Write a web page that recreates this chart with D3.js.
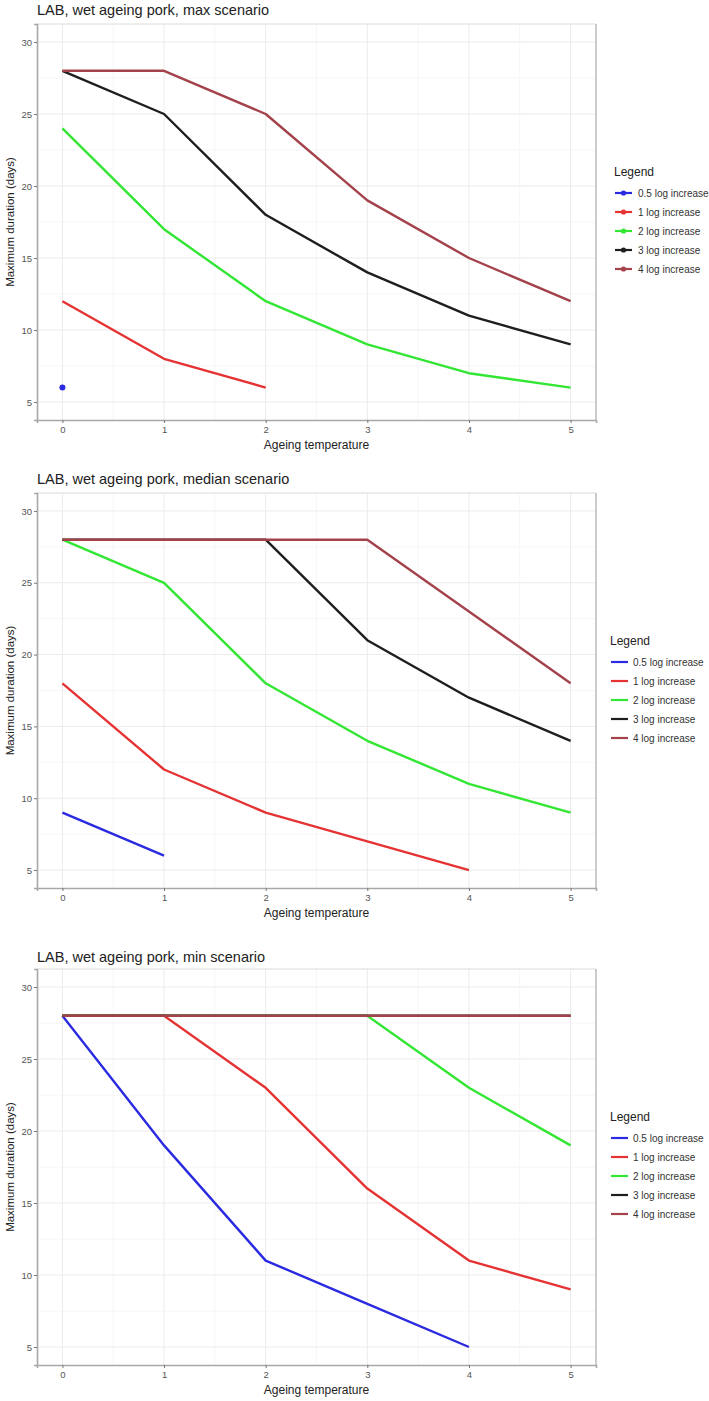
<!DOCTYPE html>
<html>
<head>
<meta charset="utf-8">
<script src="https://cdn.jsdelivr.net/npm/d3@7"></script>
<style>
html,body{margin:0;padding:0;background:#fff;}
svg{display:block;font-family:"Liberation Sans",Arial,sans-serif;}
</style>
</head>
<body>
<svg id="chart" width="709" height="1401"></svg>
<script>
const temperatures = [0, 1, 2, 3, 4, 5];
const seriesNames = ["0.5 log increase", "1 log increase", "2 log increase", "3 log increase", "4 log increase"];
const seriesColors = ["#2a2ae0", "#e53333", "#33e633", "#1e1e1e", "#a3424a"];
const yTicks = [5, 10, 15, 20, 25, 30];
const xTicks = [0, 1, 2, 3, 4, 5];
const scenarioTitles = ["LAB, wet ageing pork, max scenario", "LAB, wet ageing pork, median scenario", "LAB, wet ageing pork, min scenario"];

// values per series, indexed by temperature (null = no value)
const maxScenario = [
  [6, null, null, null, null, null],
  [12, 8, 6, null, null, null],
  [24, 17, 12, 9, 7, 6],
  [28, 25, 18, 14, 11, 9],
  [28, 28, 25, 19, 15, 12]
];
const medianScenario = [
  [9, 6, null, null, null, null],
  [18, 12, 9, 7, 5, null],
  [28, 25, 18, 14, 11, 9],
  [28, 28, 28, 21, 17, 14],
  [28, 28, 28, 28, 23, 18]
];
const minScenario = [
  [28, 19, 11, 8, 5, null],
  [28, 28, 23, 16, 11, 9],
  [28, 28, 28, 28, 23, 19],
  [28, 28, 28, 28, 28, 28],
  [28, 28, 28, 28, 28, 28]
];

const panels = [
  {data: maxScenario, top: 24, bottom: 420, titleY: 15, legTitleY: 176, legY0: 193, keyX: 615, textX: 638, points: true},
  {data: medianScenario, top: 493, bottom: 888, titleY: 484, legTitleY: 645, legY0: 662, keyX: 611, textX: 633, points: false},
  {data: minScenario, top: 969, bottom: 1365, titleY: 962, legTitleY: 1121, legY0: 1138, keyX: 611, textX: 633, points: false}
];

const svg = d3.select("#chart");
const left = 37, right = 596;

panels.forEach((p, pi) => {
  const g = svg.append("g");
  const x = d3.scaleLinear().domain([-0.25, 5.25]).range([left, right]);
  const y = d3.scaleLinear().domain([3.75, 31.25]).range([p.bottom, p.top]);

  g.append("rect").attr("x", left).attr("y", p.top).attr("width", right - left).attr("height", p.bottom - p.top).attr("fill", "#fff");

  // minor grid
  const xMinor = d3.range(-0.5, 5.6, 1).filter(v => v > -0.25 && v < 5.25);
  const yMinor = d3.range(2.5, 32.6, 5).filter(v => v > 3.75 && v < 31.25);
  g.selectAll(".xminor").data(xMinor).enter().append("line")
    .attr("x1", d => x(d)).attr("x2", d => x(d)).attr("y1", p.top).attr("y2", p.bottom)
    .attr("stroke", "#f4f4f4").attr("stroke-width", 0.8);
  g.selectAll(".yminor").data(yMinor).enter().append("line")
    .attr("y1", d => y(d)).attr("y2", d => y(d)).attr("x1", left).attr("x2", right)
    .attr("stroke", "#f4f4f4").attr("stroke-width", 0.8);
  // major grid
  g.selectAll(".xmajor").data(xTicks).enter().append("line")
    .attr("x1", d => x(d)).attr("x2", d => x(d)).attr("y1", p.top).attr("y2", p.bottom)
    .attr("stroke", "#ebebeb").attr("stroke-width", 1);
  g.selectAll(".ymajor").data(yTicks).enter().append("line")
    .attr("y1", d => y(d)).attr("y2", d => y(d)).attr("x1", left).attr("x2", right)
    .attr("stroke", "#ebebeb").attr("stroke-width", 1);

  // border
  g.append("line").attr("x1", left).attr("x2", right).attr("y1", p.top).attr("y2", p.top).attr("stroke", "#dcdcdc").attr("stroke-width", 1);
  g.append("line").attr("x1", right).attr("x2", right).attr("y1", p.top).attr("y2", p.bottom).attr("stroke", "#b0b0b0").attr("stroke-width", 1.3);

  // lines
  const line = d3.line().defined(d => d.v !== null).x(d => x(d.t)).y(d => y(d.v));
  p.data.forEach((vals, si) => {
    const pts = vals.map((v, i) => ({t: temperatures[i], v: v}));
    g.append("path").datum(pts).attr("d", line)
      .attr("fill", "none").attr("stroke", seriesColors[si]).attr("stroke-width", 2.4)
      .attr("stroke-linejoin", "round").attr("stroke-linecap", "butt");
    if (p.points) {
      const nn = pts.filter(d => d.v !== null);
      if (nn.length === 1) {
        g.append("circle").attr("cx", x(nn[0].t)).attr("cy", y(nn[0].v)).attr("r", 3).attr("fill", seriesColors[si]);
      }
    }
  });

  // axes
  const yAxis = d3.axisLeft(y).tickValues(yTicks).tickSize(3).tickPadding(2).tickFormat(d3.format("d"));
  const ya = g.append("g").attr("transform", `translate(${left},0)`).call(yAxis);
  const xAxis = d3.axisBottom(x).tickValues(xTicks).tickSize(3).tickPadding(3).tickFormat(d3.format("d"));
  const xa = g.append("g").attr("transform", `translate(0,${p.bottom})`).call(xAxis);
  [ya, xa].forEach(a => {
    a.select(".domain").attr("stroke", "#a8a8a8").attr("stroke-width", 1.6);
    a.selectAll(".tick line").attr("stroke", "#777");
    a.selectAll(".tick text").attr("fill", "#555").attr("font-size", 9.5).attr("font-family", "Liberation Sans, Arial, sans-serif");
  });

  // titles
  g.append("text").attr("x", left).attr("y", p.titleY).text(scenarioTitles[pi])
    .attr("font-size", 14.5).attr("fill", "#222");
  g.append("text").attr("x", (left + right) / 2).attr("y", p.bottom + 29).attr("text-anchor", "middle")
    .text("Ageing temperature").attr("font-size", 12).attr("fill", "#222");
  g.append("text").attr("transform", `translate(14,${(p.top + p.bottom) / 2}) rotate(-90)`)
    .attr("text-anchor", "middle").text("Maximum duration (days)").attr("font-size", 11.5).attr("fill", "#222");

  // legend
  const lg = g.append("g");
  lg.append("text").attr("x", p.keyX - 1).attr("y", p.legTitleY).text("Legend").attr("font-size", 12).attr("fill", "#222");
  seriesNames.forEach((nm, si) => {
    const yy = p.legY0 + si * 19;
    lg.append("line").attr("x1", p.keyX).attr("x2", p.keyX + 17).attr("y1", yy).attr("y2", yy)
      .attr("stroke", seriesColors[si]).attr("stroke-width", 2.2);
    if (p.points) {
      lg.append("circle").attr("cx", p.keyX + 8.5).attr("cy", yy).attr("r", 2.6).attr("fill", seriesColors[si]);
    }
    lg.append("text").attr("x", p.textX).attr("y", yy + 3.5).text(nm).attr("font-size", 10).attr("fill", "#333");
  });
});
</script>
</body>
</html>
